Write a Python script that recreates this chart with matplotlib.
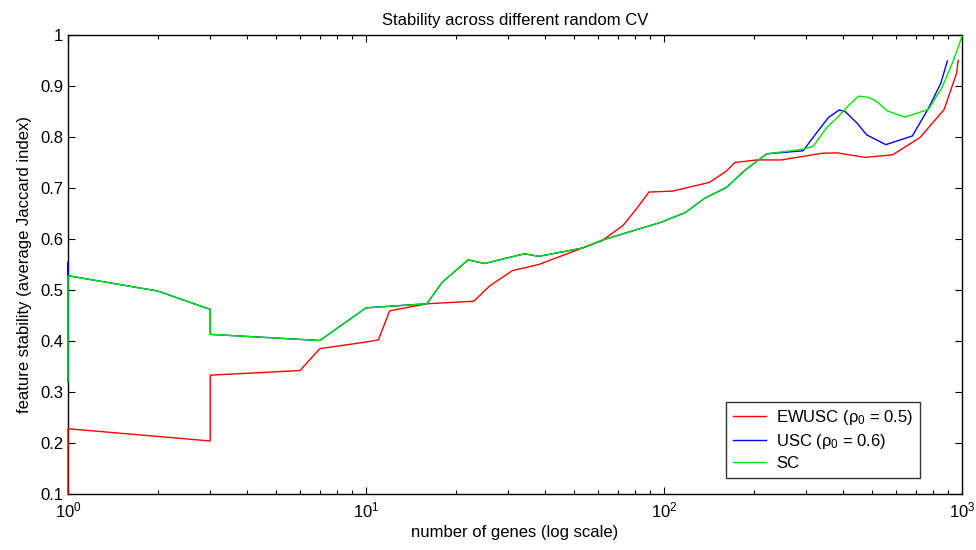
import numpy as np
from matplotlib import pyplot as plt

plt.rcParams['font.family'] = ['Liberation Sans', 'DejaVu Sans']
plt.rcParams['mathtext.default'] = 'regular'

# EWUSC (rho0 = 0.5)
ewuscGenes = [1, 1, 3, 3, 6, 7, 10, 11, 12, 16, 23, 26, 31, 38, 53, 62, 73, 81, 89,
              107, 142, 161, 173, 205, 248, 338, 380, 473, 585, 723, 871, 960, 970]
ewuscStab = [0.1, 0.228, 0.204, 0.333, 0.342, 0.385, 0.398, 0.402, 0.459, 0.473, 0.478,
             0.508, 0.538, 0.55, 0.582, 0.597, 0.627, 0.66, 0.692, 0.694, 0.711, 0.732,
             0.75, 0.755, 0.755, 0.768, 0.769, 0.76, 0.765, 0.799, 0.854, 0.926, 0.95]

# USC (rho0 = 0.6)
uscGenes = [1, 1, 1, 2, 3, 3, 7, 10, 16, 18, 22, 25, 34, 38, 53, 63, 98, 118, 137, 162,
            187, 221, 293, 317, 356, 387, 405, 443, 479, 555, 681, 771, 848, 893]
uscStab = [0.32, 0.555, 0.528, 0.498, 0.462, 0.413, 0.401, 0.465, 0.473, 0.515, 0.559,
           0.552, 0.571, 0.566, 0.582, 0.599, 0.633, 0.652, 0.68, 0.701, 0.735, 0.767,
           0.773, 0.80, 0.838, 0.853, 0.85, 0.828, 0.804, 0.785, 0.802, 0.856, 0.905, 0.949]

# SC
scGenes = [1, 1, 2, 3, 3, 7, 10, 16, 18, 22, 25, 34, 38, 53, 63, 98, 118, 137, 162, 187,
           221, 293, 317, 352, 380, 415, 449, 483, 514, 562, 644, 771, 855, 940, 1000]
scStab = [0.32, 0.528, 0.498, 0.462, 0.413, 0.401, 0.465, 0.473, 0.515, 0.559, 0.552,
          0.571, 0.566, 0.582, 0.599, 0.633, 0.652, 0.68, 0.701, 0.735, 0.767, 0.776,
          0.782, 0.819, 0.837, 0.861, 0.880, 0.878, 0.871, 0.851, 0.839, 0.854, 0.896,
          0.953, 0.998]

yTicks = [0.1, 0.2, 0.3, 0.4, 0.5, 0.6, 0.7, 0.8, 0.9, 1]
yTickLabels = ['0.1', '0.2', '0.3', '0.4', '0.5', '0.6', '0.7', '0.8', '0.9', '1']

FS = 12

fig = plt.figure(figsize=(9.76, 5.5), dpi=100)
ax = fig.add_axes([0.0697, 0.1018, 0.916, 0.8346])

ax.plot(ewuscGenes, ewuscStab, color='#ff0000', lw=1, label=r'EWUSC ($\rho_0$ = 0.5)', clip_on=False, zorder=3)
ax.plot(uscGenes, uscStab, color='#0000ff', lw=1, label=r'USC ($\rho_0$ = 0.6)', clip_on=False, zorder=3)
ax.plot(scGenes, scStab, color='#00e600', lw=1, label='SC', clip_on=False, zorder=3)

ax.set_xscale('log')
ax.set_xlim(1, 1000)
ax.set_ylim(0.1, 1)
ax.set_yticks(yTicks)
ax.set_yticklabels(yTickLabels)

ax.tick_params(which='both', direction='in', top=True, right=True, labelsize=FS, colors='black')
ax.tick_params(which='major', length=5, width=0.8)
ax.tick_params(which='minor', length=3, width=0.8)
ax.tick_params(axis='x', pad=5)
for sp in ax.spines.values():
    sp.set_linewidth(1)
    sp.set_zorder(2)

ax.set_title('Stability across different random CV', fontsize=FS, pad=7)
ax.set_xlabel('number of genes (log scale)', fontsize=FS, labelpad=3)
ax.set_ylabel('feature stability (average Jaccard index)', fontsize=FS, labelpad=6)

leg = ax.legend(loc='lower right', bbox_to_anchor=(0.953, 0.035), fancybox=False,
                edgecolor='black', fontsize=FS, handlelength=2.0, handletextpad=0.6,
                borderpad=0.4, labelspacing=0.3, borderaxespad=0)
leg.get_frame().set_linewidth(1)

fig.savefig('out.png', dpi=100)
